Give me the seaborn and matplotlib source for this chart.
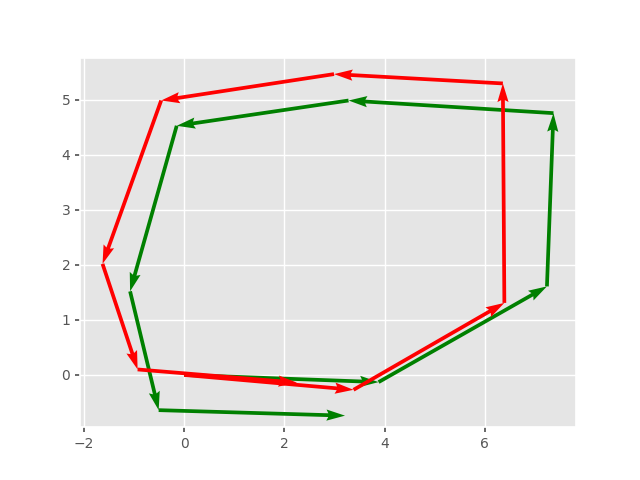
import numpy as np
import matplotlib
matplotlib.use('Agg')
import matplotlib.pyplot as plt
import seaborn as sns

# vector steps (u, v), each one starts where the previous ends
red_u = [3.38, 3.01, -0.03, -3.37, -3.45, -1.17, 0.70, 3.18]
red_v = [-0.27, 1.58, 3.99, 0.17, -0.48, -2.97, -1.92, -0.24]
green_u = [3.88, 3.36, 0.13, -4.09, -3.43, -0.93, 0.57, 3.72]
green_v = [-0.13, 1.74, 3.15, 0.23, -0.46, -3.01, -2.16, -0.10]

x_ticks = [-2, 0, 2, 4, 6]
y_ticks = [0, 1, 2, 3, 4, 5]

# ggplot-ish look through seaborn
sns.set_theme(style='darkgrid', rc={
    'axes.facecolor': '#E5E5E5',
    'axes.edgecolor': 'white',
    'grid.color': 'white',
    'grid.linewidth': 1.0,
    'xtick.color': '#555555',
    'ytick.color': '#555555',
    'xtick.labelcolor': '#555555',
    'ytick.labelcolor': '#555555',
    'xtick.major.size': 3.5,
    'ytick.major.size': 3.5,
    'xtick.bottom': True,
    'ytick.left': True,
    'xtick.labelsize': 10,
    'ytick.labelsize': 10,
    'figure.facecolor': 'white',
})
plt.rcParams['font.family'] = ['DejaVu Sans']


def starts(u, v):
    x0 = np.concatenate([[0], np.cumsum(u)[:-1]])
    y0 = np.concatenate([[0], np.cumsum(v)[:-1]])
    return x0, y0


fig, ax = plt.subplots(figsize=(6.4, 4.8), dpi=100)

rx, ry = starts(red_u, red_v)
gx, gy = starts(green_u, green_v)
ax.quiver(gx, gy, green_u, green_v, color='green', angles='xy', scale_units='xy', scale=1)
ax.quiver(rx, ry, red_u, red_v, color='red', angles='xy', scale_units='xy', scale=1)

ax.set_xlim(-2.08, 7.82)
ax.set_ylim(-0.95, 5.77)
ax.set_xticks(x_ticks)
ax.set_yticks(y_ticks)

plt.savefig('out.png', dpi=100)
